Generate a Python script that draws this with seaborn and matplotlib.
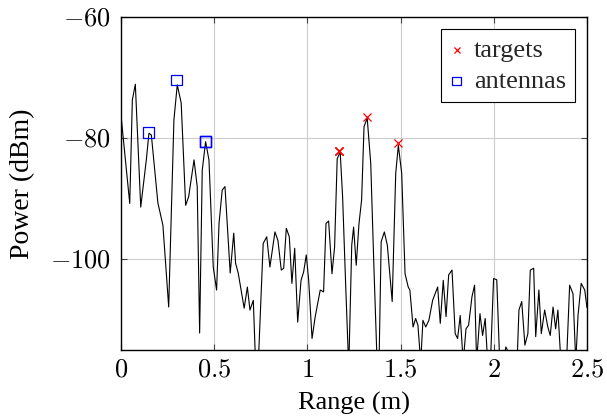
import matplotlib
matplotlib.use("Agg")
import matplotlib.pyplot as plt
import seaborn as sns
import pandas as pd
from matplotlib.ticker import FuncFormatter

# ---- data ----
range_m = [0.0, 0.047, 0.061, 0.077, 0.106, 0.136, 0.150, 0.163, 0.198, 0.225,
           0.256, 0.284, 0.302, 0.323, 0.347, 0.363, 0.392, 0.409, 0.422, 0.436,
           0.454, 0.472, 0.495, 0.513, 0.526, 0.543, 0.558, 0.586, 0.605, 0.615,
           0.629, 0.661, 0.678, 0.692, 0.710, 0.723, 0.737, 0.763, 0.782, 0.799,
           0.826, 0.842, 0.860, 0.873, 0.887, 0.903, 0.917, 0.932, 0.948, 0.966,
           0.980, 0.994, 1.007, 1.025, 1.042, 1.069, 1.087, 1.100, 1.114, 1.132,
           1.146, 1.160, 1.176, 1.189, 1.207, 1.222, 1.238, 1.248, 1.262, 1.277,
           1.291, 1.304, 1.321, 1.340, 1.357, 1.375, 1.384, 1.396, 1.413, 1.429,
           1.455, 1.474, 1.488, 1.506, 1.524, 1.541, 1.550, 1.567, 1.581, 1.593,
           1.608, 1.620, 1.635, 1.652, 1.672, 1.699, 1.713, 1.729, 1.744, 1.758,
           1.776, 1.793, 1.806, 1.820, 1.836, 1.851, 1.865, 1.883, 1.897, 1.908,
           1.926, 1.940, 1.954, 1.969, 1.981, 1.999, 2.016, 2.033, 2.049, 2.065,
           2.087, 2.108, 2.124, 2.135, 2.150, 2.167, 2.183, 2.196, 2.214, 2.225,
           2.242, 2.255, 2.273, 2.290, 2.303, 2.318, 2.332, 2.344, 2.362, 2.389,
           2.407, 2.425, 2.440, 2.452, 2.469, 2.488, 2.500]
power_dbm = [-76.2, -90.8, -73.7, -71.1, -91.4, -83.6, -79.2, -79.5, -90.7, -94.4,
             -107.9, -77.0, -71.2, -74.2, -91.1, -89.7, -83.6, -88.0, -112.2, -85.3,
             -80.6, -83.6, -101.3, -105.1, -94.1, -88.6, -88.0, -102.3, -95.7, -100.7,
             -102.3, -108.1, -104.6, -108.4, -106.8, -118.0, -117.0, -97.4, -96.3, -101.3,
             -95.5, -96.9, -101.8, -101.5, -94.9, -96.3, -104.0, -98.2, -110.4, -103.5,
             -102.1, -99.3, -103.5, -113.1, -109.5, -105.1, -105.4, -94.1, -93.7, -102.4,
             -98.0, -83.4, -82.3, -89.7, -105.6, -118.0, -97.7, -94.7, -101.0, -94.1,
             -90.2, -78.1, -76.7, -84.2, -101.3, -118.0, -118.0, -97.1, -95.5, -97.7,
             -107.0, -85.8, -81.2, -85.8, -102.4, -104.6, -105.1, -111.2, -109.8, -110.9,
             -117.0, -110.1, -111.2, -110.1, -106.8, -104.6, -110.6, -103.5, -109.5, -102.6,
             -101.8, -112.3, -113.1, -109.3, -117.0, -111.5, -110.9, -106.2, -104.3, -117.0,
             -109.0, -112.6, -109.8, -118.0, -118.0, -103.2, -103.4, -118.0, -117.0, -114.5,
             -116.0, -117.0, -118.0, -108.4, -107.0, -114.2, -112.3, -101.8, -101.5, -112.8,
             -105.1, -112.3, -108.4, -111.2, -112.6, -107.9, -111.5, -108.4, -118.0, -118.0,
             -104.3, -105.7, -117.0, -109.3, -104.0, -105.1, -108.0]

targets_x = [1.171, 1.171, 1.171, 1.321, 1.488]
targets_y = [-82.1, -82.1, -82.1, -76.5, -80.8]

antennas_x = [0.150, 0.300, 0.451, 0.451, 0.451]
antennas_y = [-79.0, -70.4, -80.5, -80.5, -80.5]

x_ticks = [0, 0.5, 1, 1.5, 2, 2.5]
y_ticks = [-100, -80, -60]

# ---- style ----
sns.set_theme(style="whitegrid")
plt.rcParams["font.family"] = ["Liberation Serif", "DejaVu Serif"]
plt.rcParams["mathtext.fontset"] = "cm"

fig = plt.figure(figsize=(6.07, 4.20), dpi=100)
ax = fig.add_axes([0.1993, 0.1667, 0.7677, 0.7928])

line_df = pd.DataFrame({"Range": range_m, "Power": power_dbm})
sns.lineplot(data=line_df, x="Range", y="Power", sort=False, estimator=None,
             color="black", linewidth=0.8, ax=ax, zorder=3)

sns.scatterplot(x=targets_x, y=targets_y, marker="x", color="red", s=34,
                linewidth=0.9, ax=ax, label="targets", zorder=4)
sns.scatterplot(x=antennas_x, y=antennas_y, marker="s", s=62,
                facecolors="none", edgecolors="blue", linewidth=0.9,
                ax=ax, label="antennas", zorder=4)

ax.set_xlim(0, 2.5)
ax.set_ylim(-115, -60)
ax.set_xticks(x_ticks)
ax.set_yticks(y_ticks)

def fmt(v, pos):
    s = ("%g" % v)
    return "$%s$" % s
ax.xaxis.set_major_formatter(FuncFormatter(fmt))
ax.yaxis.set_major_formatter(FuncFormatter(fmt))

ax.grid(True, color="#cccccc", linewidth=0.8)
ax.set_axisbelow(True)
for sp in ax.spines.values():
    sp.set_color("black")
    sp.set_linewidth(1.0)
    sp.set_visible(True)

ax.tick_params(axis="both", which="major", direction="in", length=4, width=0.8,
               color="#444444", top=True, right=True, bottom=True, left=True,
               labelsize=19, labelcolor="black", pad=7)

ax.set_xlabel("Range (m)", fontsize=19, color="black", labelpad=7)
ax.set_ylabel("Power (dBm)", fontsize=20, color="black", labelpad=11)

leg = ax.legend(loc="upper right", fontsize=19, frameon=True, fancybox=False,
                edgecolor="black", framealpha=1, borderaxespad=0.45,
                handlelength=0.5, handletextpad=0.4, borderpad=0.35,
                labelspacing=0.3, markerscale=0.75)
leg.get_frame().set_linewidth(0.8)

fig.savefig("out.png", dpi=100, facecolor="white")
